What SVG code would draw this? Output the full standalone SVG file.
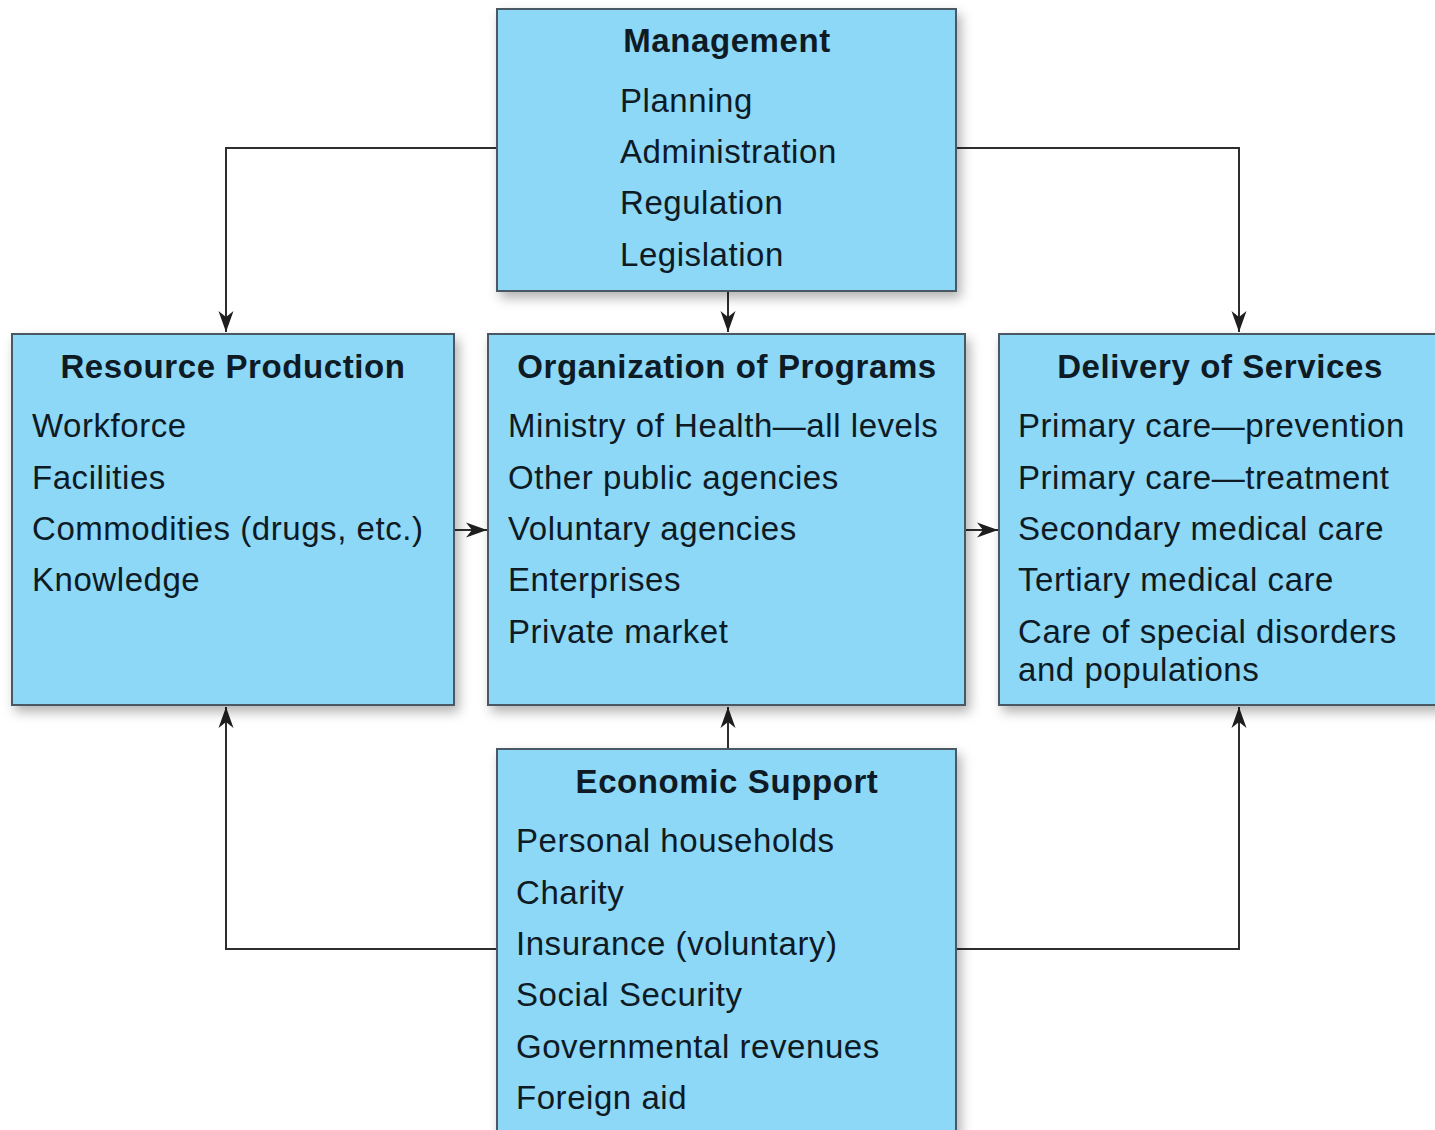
<svg xmlns="http://www.w3.org/2000/svg" width="1435" height="1130" viewBox="0 0 1435 1130">
<style>
.box{fill:#8dd7f7;stroke:#4a5863;stroke-width:2}
.t{font-family:"Liberation Sans",Arial,Helvetica,sans-serif;font-size:33px;font-weight:bold;fill:#0e1a24;text-anchor:middle;letter-spacing:0.6px}
.i{font-family:"Liberation Sans",Arial,Helvetica,sans-serif;font-size:33px;fill:#0e1a24;letter-spacing:0.55px}
.c{fill:none;stroke:#2e2e2e;stroke-width:2}
</style>
<defs>
<filter id="sh" x="-10%" y="-10%" width="125%" height="130%">
<feDropShadow dx="4" dy="6" stdDeviation="6" flood-color="#000" flood-opacity="0.3"/>
</filter>
<marker id="ah" markerWidth="22" markerHeight="18" refX="21" refY="9" orient="auto" markerUnits="userSpaceOnUse">
<path d="M0,1.5 L21,9 L0,16.5 L6,9 z" fill="#1e1e1e"/>
</marker>
</defs>
<rect width="1435" height="1130" fill="#ffffff"/>
<g id="connectors">
<path class="c" d="M497,148 H226 V332" marker-end="url(#ah)"/>
<path class="c" d="M956,148 H1239 V332" marker-end="url(#ah)"/>
<path class="c" d="M728,291 V332" marker-end="url(#ah)"/>
<path class="c" d="M454,530 H487" marker-end="url(#ah)"/>
<path class="c" d="M965,530 H998" marker-end="url(#ah)"/>
<path class="c" d="M728,749 V707" marker-end="url(#ah)"/>
<path class="c" d="M497,949 H226 V707" marker-end="url(#ah)"/>
<path class="c" d="M956,949 H1239 V707" marker-end="url(#ah)"/>
</g>
<g id="management">
<rect class="box" x="497" y="9" width="459" height="282" filter="url(#sh)"/>
<text class="t" x="727" y="52">Management</text>
<text class="i" x="620" y="112">Planning</text>
<text class="i" x="620" y="163">Administration</text>
<text class="i" x="620" y="214">Regulation</text>
<text class="i" x="620" y="266">Legislation</text>
</g>
<g id="resource-production">
<rect class="box" x="12" y="334" width="442" height="371" filter="url(#sh)"/>
<text class="t" x="233" y="378">Resource Production</text>
<text class="i" x="32" y="437">Workforce</text>
<text class="i" x="32" y="489">Facilities</text>
<text class="i" x="32" y="540">Commodities (drugs, etc.)</text>
<text class="i" x="32" y="591">Knowledge</text>
</g>
<g id="organization-of-programs">
<rect class="box" x="488" y="334" width="477" height="371" filter="url(#sh)"/>
<text class="t" x="727" y="378">Organization of Programs</text>
<text class="i" x="508" y="437">Ministry of Health—all levels</text>
<text class="i" x="508" y="489">Other public agencies</text>
<text class="i" x="508" y="540">Voluntary agencies</text>
<text class="i" x="508" y="591">Enterprises</text>
<text class="i" x="508" y="643">Private market</text>
</g>
<g id="delivery-of-services">
<rect class="box" x="999" y="334" width="450" height="371" filter="url(#sh)"/>
<text class="t" x="1220" y="378">Delivery of Services</text>
<text class="i" x="1018" y="437">Primary care—prevention</text>
<text class="i" x="1018" y="489">Primary care—treatment</text>
<text class="i" x="1018" y="540">Secondary medical care</text>
<text class="i" x="1018" y="591">Tertiary medical care</text>
<text class="i" x="1018" y="643">Care of special disorders</text>
<text class="i" x="1018" y="681">and populations</text>
</g>
<g id="economic-support">
<rect class="box" x="497" y="749" width="459" height="400" filter="url(#sh)"/>
<text class="t" x="727" y="793">Economic Support</text>
<text class="i" x="516" y="852">Personal households</text>
<text class="i" x="516" y="904">Charity</text>
<text class="i" x="516" y="955">Insurance (voluntary)</text>
<text class="i" x="516" y="1006">Social Security</text>
<text class="i" x="516" y="1058">Governmental revenues</text>
<text class="i" x="516" y="1109">Foreign aid</text>
</g>
</svg>
